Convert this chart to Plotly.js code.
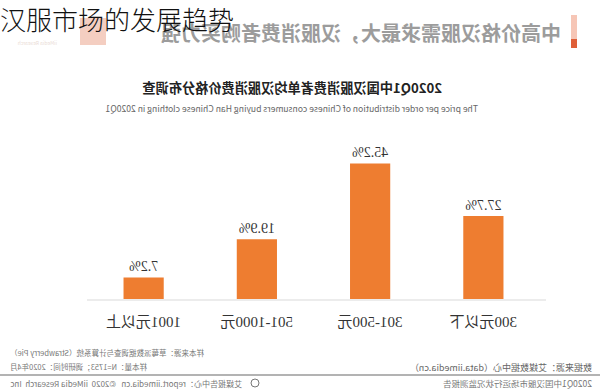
<!DOCTYPE html>
<html>
<head>
<meta charset="utf-8">
<script src="https://cdn.plot.ly/plotly-3.0.1.min.js"></script>
<style>
  html, body { margin: 0; padding: 0; background: #fff; }
  #wrap { position: relative; width: 600px; height: 390px; overflow: hidden; }
  #chart { position: absolute; left: 0; top: 0; width: 600px; height: 390px; transform: scaleX(-1); transform-origin: 300px 195px; }
  #overlay { position: absolute; left: 0; top: 0px; font-family: "Noto Sans CJK SC", sans-serif; font-size: 26px; font-weight: 300; color: #111; white-space: nowrap; }
</style>
</head>
<body>
<div id="wrap">
  <div id="chart"></div>
  <div id="overlay"></div>
</div>
<script>
// ---- data ----
const pageTitle = "汉服市场的发展趋势";
const headerText = "中高价格汉服需求最大，汉服消费者购买力强";
const chartTitle = "2020Q1中国汉服消费者单均汉服消费价格分布调查";
const chartSubtitle = "The price per order distribution of Chinese consumers buying Han Chinese clothing in 2020Q1";
const categories = ["300元以下", "301-500元", "501-1000元", "1001元以上"];
const shares = [27.7, 45.2, 19.9, 7.2];
const sourceNote = "数据来源：艾媒数据中心（data.iimedia.cn）";
const reportName = "2020Q1中国汉服市场运行状况监测报告";
const sampleSource = "样本来源：草莓派数据调查与计算系统（Strawberry Pie）";
const sampleSize = "样本量：N=1753；调研时间：2020年4月";
const reportCenter = "艾媒报告中心：report.iimedia.cn   ©2020  iiMedia Research  Inc";

document.getElementById("overlay").textContent = pageTitle;

// ---- layout helpers (pixel -> paper) ----
const W = 600, H = 390;
const M = { l: 60, r: 87, t: 149, b: 91 };
const pw = W - M.l - M.r, ph = H - M.t - M.b;
const px = x => (x - M.l) / pw;
const py = y => (H - M.b - y) / ph;

const sans = '"Noto Sans CJK SC", "Noto Sans", sans-serif';
const serif = '"Liberation Serif", "DejaVu Serif", "Noto Sans CJK SC", serif';

const trace = {
  type: "bar",
  x: categories,
  y: shares,
  marker: { color: "#ee7d30" },
  text: shares.map(v => v.toFixed(1) + "%"),
  textposition: "outside",
  textfont: { family: serif, size: 14, color: "#333" },
  cliponaxis: false,
  hoverinfo: "skip",
  width: 0.355
};

function ann(text, x, y, opts) {
  return Object.assign({
    text: text, xref: "paper", yref: "paper", x: px(x), y: py(y),
    showarrow: false, xanchor: "center", yanchor: "middle",
    font: { family: sans, size: 9, color: "#666" }
  }, opts || {});
}

const annotations = [
  ann(headerText, 37, 33, { xanchor: "left", font: { family: sans, size: 20, color: "#9c9c9c", weight: 700 } }),
  ann("iiMedia Research", 562, 42, { font: { family: sans, size: 5, color: "#eadcd6" } }),
  ann(chartTitle, 308, 87, { font: { family: sans, size: 13.2, color: "#222", weight: 700 } }),
  ann(chartSubtitle, 308, 108, { font: { family: sans, size: 8.6, color: "#666" } }),
  ann(sourceNote, 6, 367, { xanchor: "left", font: { family: sans, size: 9, color: "#666" } }),
  ann(reportName, 6, 383, { xanchor: "left", font: { family: sans, size: 8.5, color: "#777" } }),
  ann(sampleSource, 592, 352, { xanchor: "right", font: { family: sans, size: 7.5, color: "#777" } }),
  ann(sampleSize, 592, 366, { xanchor: "right", font: { family: sans, size: 7.5, color: "#777" } }),
  ann(reportCenter, 592, 383, { xanchor: "right", font: { family: sans, size: 8, color: "#777" } })
];

const shapes = [
  // baseline
  { type: "line", xref: "paper", yref: "paper", x0: px(54), x1: px(513), y0: py(300), y1: py(300), line: { color: "#e6e6e6", width: 1.5 } },
  // footer rule
  { type: "line", xref: "paper", yref: "paper", x0: px(0), x1: px(600), y0: py(375), y1: py(375), line: { color: "#9a9a9a", width: 1.5 } },
  // header accent bar
  { type: "rect", xref: "paper", yref: "paper", x0: px(23), x1: px(29), y0: py(15), y1: py(39), fillcolor: "#f6c6b6", line: { width: 0 } },
  { type: "rect", xref: "paper", yref: "paper", x0: px(23), x1: px(29), y0: py(39), y1: py(48), fillcolor: "#df5f38", line: { width: 0 } },
  // faded logo
  { type: "rect", xref: "paper", yref: "paper", x0: px(494), x1: px(520), y0: py(18), y1: py(45), fillcolor: "#f1c2b2", line: { width: 0 }, opacity: 0.8 },
  // footer logo circle
  { type: "circle", xref: "paper", yref: "paper", x0: px(341), x1: px(349), y0: py(379), y1: py(387), fillcolor: "rgba(0,0,0,0)", line: { color: "#777", width: 1 } }
];

const layout = {
  width: W, height: H,
  margin: M,
  paper_bgcolor: "#fff", plot_bgcolor: "#fff",
  showlegend: false,
  bargap: 0.645,
  xaxis: {
    type: "category",
    showgrid: false, zeroline: false, showline: false, ticks: "",
    tickfont: { family: serif, size: 15, color: "#333" },
    ticklabelstandoff: 12,
    fixedrange: true
  },
  yaxis: { range: [0, 50], visible: false, fixedrange: true },
  annotations: annotations,
  shapes: shapes,
  font: { family: sans }
};

Plotly.newPlot("chart", [trace], layout, { displayModeBar: false, staticPlot: true });
</script>
</body>
</html>
